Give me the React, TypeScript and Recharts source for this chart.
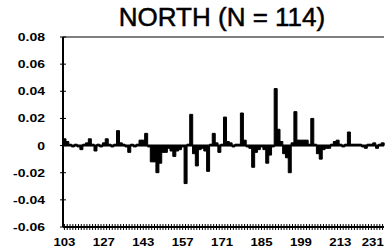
import React from 'react'
import { BarChart, Bar, XAxis, YAxis, ReferenceLine } from 'recharts'

// one value per subject, in the order printed along the x axis (N = 114)
const values = [
  0.005, 0.003, 0.001, -0.001, 0.001, -0.001, -0.003, 0.001, 0.002, 0.005,
  0.001, -0.004, 0.001, -0.001, 0.002, 0.005, 0.001, -0.001, 0.001, 0.011,
  0.002, 0.001, -0.001, -0.005, 0.001, -0.001, 0.001, 0.004, 0.004, 0.009,
  -0.001, -0.012, -0.012, -0.02, -0.013, -0.005, -0.005, -0.002, -0.004, -0.008,
  -0.004, -0.003, -0.001, -0.028, 0.001, 0.023, -0.006, -0.015, -0.003, -0.002,
  -0.004, -0.019, 0.001, 0.009, 0.002, -0.005, 0.001, 0.021, 0.003, 0.002,
  -0.001, 0.001, 0.001, 0.024, 0.004, -0.001, -0.002, -0.016, -0.005, -0.003,
  -0.001, -0.003, -0.013, -0.007, -0.001, 0.042, 0.012, 0.003, -0.006, -0.009,
  -0.02, 0.002, 0.025, 0.004, 0.004, 0.004, 0.004, 0.001, 0.02, 0.001,
  -0.006, -0.01, -0.003, -0.002, -0.002, 0.001, 0.003, 0.004, 0.001, -0.001,
  0.001, 0.01, 0.001, 0.001, 0.001, 0.001, -0.001, -0.002, 0.001, 0.001,
  0.002, -0.002, 0.001, 0.002,
]

// printed labels, one every 14 subjects
const xLabels = ['103', '127', '143', '157', '171', '185', '199', '213', '231']
const labelStep = 14

const yTicks = [-0.06, -0.04, -0.02, 0, 0.02, 0.04, 0.06, 0.08]

const data = values.map((v, i) => ({ idx: i, v }))

const font = '"Liberation Sans", Arial, Helvetica, sans-serif'

function XTick(props: any) {
  const { x, y, payload } = props
  const i = payload.index
  const label = i % labelStep === 0 ? xLabels[i / labelStep] : null
  // last label sits against the right edge, keep it inside
  const lx = i === values.length - 2 ? x - 7 : x
  return (
    <g>
      <line x1={x} x2={x} y1={y - 3} y2={y + 3} stroke="#000" strokeWidth={1} />
      {label && (
        <g transform={`translate(${lx},${y + 19}) scale(1.2,1)`}>
          <text x={0} y={0} textAnchor="middle" fontFamily={font} fontWeight="bold" fontSize={11} fill="#000">
            {label}
          </text>
        </g>
      )}
    </g>
  )
}

function YTick(props: any) {
  const { x, y, payload } = props
  const v = payload.value
  const label = v === 0 ? '0' : v.toFixed(2)
  return (
    <g>
      <line x1={x - 3} x2={x + 3} y1={y} y2={y} stroke="#000" strokeWidth={1} />
      <g transform={`translate(${x - 18},${y + 4}) scale(1.4,1)`}>
        <text x={0} y={0} textAnchor="end" fontFamily={font} fontWeight="bold" fontSize={10} fill="#000">
          {label}
        </text>
      </g>
    </g>
  )
}

export default function App() {
  return (
    <div style={{ position: 'absolute', left: 0, top: 0, width: 386, height: 248, background: '#fff' }}>
      <div
        style={{
          position: 'absolute',
          left: 222,
          top: 4,
          transform: 'translateX(-50%)',
          whiteSpace: 'nowrap',
          fontFamily: font,
          fontSize: 26,
          lineHeight: '26px',
          color: '#000',
          WebkitTextStroke: '0.5px #000',
        }}
      >
        NORTH (N = 114)
      </div>
      <BarChart
        width={386}
        height={248}
        data={data}
        margin={{ top: 37, right: 2, left: 0, bottom: 0 }}
        barCategoryGap={0}
        barGap={0}
      >
        <XAxis
          dataKey="idx"
          type="category"
          interval={0}
          height={21}
          tickLine={false}
          tickSize={0}
          tickMargin={0}
          axisLine={{ stroke: '#000', strokeWidth: 2 }}
          tick={XTick}
        />
        <YAxis
          width={63}
          domain={[-0.06, 0.08]}
          ticks={yTicks}
          interval={0}
          tickLine={false}
          tickSize={0}
          tickMargin={0}
          axisLine={{ stroke: '#000', strokeWidth: 2 }}
          tick={YTick}
        />
        <ReferenceLine y={0.08} stroke="#000" strokeWidth={1} />
        <ReferenceLine y={0} stroke="#000" strokeWidth={2} />
        <Bar dataKey="v" fill="#000" stroke="#000" strokeWidth={1} isAnimationActive={false} />
      </BarChart>
    </div>
  )
}
